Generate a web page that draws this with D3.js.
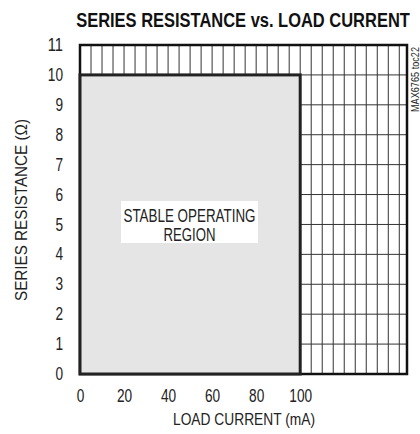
<!DOCTYPE html>
<html>
<head>
<meta charset="utf-8">
<script src="https://cdn.jsdelivr.net/npm/d3@7"></script>
<style>
  body { margin: 0; background: #fff; }
  text { font-family: "Liberation Sans", Arial, sans-serif; fill: #222; }
</style>
</head>
<body>
<div id="chart"></div>
<script>
var svgWidth = 420;
var svgHeight = 434;

var margin = { top: 45, right: 13, bottom: 60, left: 80 };
var width = svgWidth - margin.left - margin.right;
var height = svgHeight - margin.top - margin.bottom;

// data
var xTicks = [0, 20, 40, 60, 80, 100];
var yTicks = [0, 1, 2, 3, 4, 5, 6, 7, 8, 9, 10, 11];
var xGrid = d3.range(5, 150, 5);     // vertical grid every 5 mA
var yGrid = [1, 2, 3, 4, 5, 6, 7, 8, 9, 10];
var stableRegion = { currentMax: 100, resistanceMax: 10 };
var xMax = 148.5;
var yMax = 11;

var svg = d3.select("#chart").append("svg")
  .attr("width", svgWidth)
  .attr("height", svgHeight);

var chartGroup = svg.append("g")
  .attr("transform", `translate(${margin.left}, ${margin.top})`);

var x = d3.scaleLinear().domain([0, xMax]).range([0, width]);
var y = d3.scaleLinear().domain([0, yMax]).range([height, 0]);

// squeeze text to look like the narrow font of the original
function narrow(sel, perChar) {
  sel.attr("textLength", function () { return this.textContent.length * perChar; })
    .attr("lengthAdjust", "spacingAndGlyphs");
}

// grid
chartGroup.selectAll(".vgrid").data(xGrid).enter().append("line")
  .attr("x1", d => x(d)).attr("x2", d => x(d))
  .attr("y1", 0).attr("y2", height)
  .attr("stroke", "#333").attr("stroke-width", 1);

chartGroup.selectAll(".hgrid").data(yGrid).enter().append("line")
  .attr("x1", 0).attr("x2", width)
  .attr("y1", d => y(d)).attr("y2", d => y(d))
  .attr("stroke", "#333").attr("stroke-width", 1);

// frame
chartGroup.append("rect")
  .attr("x", 0).attr("y", 0)
  .attr("width", width).attr("height", height)
  .attr("fill", "none").attr("stroke", "#111").attr("stroke-width", 2.5);

// stable region
chartGroup.append("rect")
  .attr("x", x(0)).attr("y", y(stableRegion.resistanceMax))
  .attr("width", x(stableRegion.currentMax) - x(0))
  .attr("height", y(0) - y(stableRegion.resistanceMax))
  .attr("fill", "#e5e5e5").attr("stroke", "#222").attr("stroke-width", 3);

// label box
chartGroup.append("rect")
  .attr("x", 41).attr("y", 156)
  .attr("width", 137).attr("height", 42)
  .attr("fill", "#fff");

var lbl = chartGroup.append("text")
  .attr("text-anchor", "middle")
  .style("font-size", "18px");
lbl.append("tspan").attr("x", 109.5).attr("y", 177)
  .attr("textLength", 132).attr("lengthAdjust", "spacingAndGlyphs")
  .text("STABLE OPERATING");
lbl.append("tspan").attr("x", 109.5).attr("y", 196)
  .attr("textLength", 52).attr("lengthAdjust", "spacingAndGlyphs")
  .text("REGION");

// axes
var bottomAxis = d3.axisBottom(x).tickValues(xTicks).tickSize(0).tickPadding(16);
var leftAxis = d3.axisLeft(y).tickValues(yTicks).tickSize(0).tickPadding(17);

chartGroup.append("g")
  .attr("transform", `translate(0, ${height})`)
  .call(bottomAxis)
  .call(g => g.select(".domain").remove())
  .selectAll("text").style("font-size", "17.5px").attr("fill", "#222")
  .call(narrow, 7.6);

chartGroup.append("g")
  .call(leftAxis)
  .call(g => g.select(".domain").remove())
  .selectAll("text").style("font-size", "17.5px").attr("fill", "#222")
  .call(narrow, 7.6);

// title: horizontally scaled so it stays inside the page
var title = svg.append("text")
  .attr("text-anchor", "middle")
  .style("font-size", "21px").style("font-weight", "bold").style("fill", "#111")
  .text("SERIES RESISTANCE vs. LOAD CURRENT");
var titleW = title.node().getComputedTextLength();
title.attr("transform", `translate(243, 27) scale(${334 / titleW}, 1)`);

svg.append("text")
  .attr("x", 244).attr("y", 425)
  .attr("text-anchor", "middle")
  .attr("textLength", 142).attr("lengthAdjust", "spacingAndGlyphs")
  .style("font-size", "16.5px")
  .text("LOAD CURRENT (mA)");

svg.append("text")
  .attr("transform", "rotate(-90)")
  .attr("x", -210).attr("y", 27)
  .attr("text-anchor", "middle")
  .attr("textLength", 182).attr("lengthAdjust", "spacingAndGlyphs")
  .style("font-size", "16.5px")
  .text("SERIES RESISTANCE (Ω)");

svg.append("text")
  .attr("transform", "rotate(-90)")
  .attr("x", -47).attr("y", 419)
  .attr("text-anchor", "end")
  .attr("textLength", 65).attr("lengthAdjust", "spacingAndGlyphs")
  .style("font-size", "10.5px")
  .text("MAX6765 toc22");
</script>
</body>
</html>
